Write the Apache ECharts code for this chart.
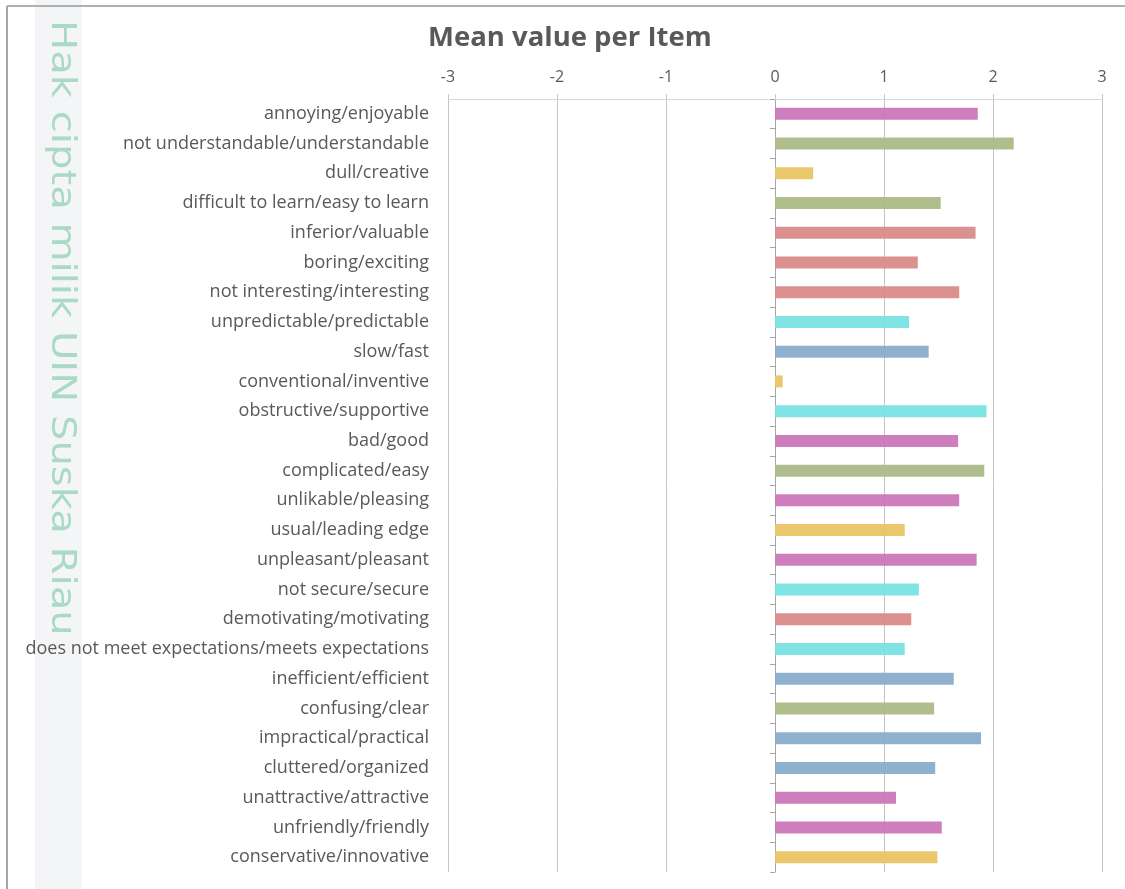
<!DOCTYPE html>
<html>
<head>
<meta charset="utf-8">
<title>Mean value per Item</title>
<script src="https://cdn.jsdelivr.net/npm/echarts@6/dist/echarts.min.js"></script>
<style>
  html, body { margin: 0; padding: 0; background: #ffffff; }
  #chart { width: 1125px; height: 889px; }
</style>
</head>
<body>
<div id="chart"></div>
<script>
  // items, top to bottom
  const items = [
    'annoying/enjoyable',
    'not understandable/understandable',
    'dull/creative',
    'difficult to learn/easy to learn',
    'inferior/valuable',
    'boring/exciting',
    'not interesting/interesting',
    'unpredictable/predictable',
    'slow/fast',
    'conventional/inventive',
    'obstructive/supportive',
    'bad/good',
    'complicated/easy',
    'unlikable/pleasing',
    'usual/leading edge',
    'unpleasant/pleasant',
    'not secure/secure',
    'demotivating/motivating',
    'does not meet expectations/meets expectations',
    'inefficient/efficient',
    'confusing/clear',
    'impractical/practical',
    'cluttered/organized',
    'unattractive/attractive',
    'unfriendly/friendly',
    'conservative/innovative'
  ];
  const meanValues = [
    1.86, 2.19, 0.35, 1.52, 1.84, 1.31, 1.69, 1.23, 1.41, 0.07, 1.94, 1.68, 1.92,
    1.69, 1.19, 1.85, 1.32, 1.25, 1.19, 1.64, 1.46, 1.89, 1.47, 1.11, 1.53, 1.49
  ];
  // scale group of each item (attractiveness, perspicuity, ...)
  const itemGroups = [
    'att', 'per', 'nov', 'per', 'sti', 'sti', 'sti', 'dep', 'eff', 'nov', 'dep', 'att', 'per',
    'att', 'nov', 'att', 'dep', 'sti', 'dep', 'eff', 'per', 'eff', 'eff', 'att', 'att', 'nov'
  ];
  const xTicks = [-3, -2, -1, 0, 1, 2, 3];

  const groupColors = {
    att: '#cb77b8',
    per: '#abbb86',
    nov: '#eac463',
    sti: '#d98b8a',
    dep: '#78e3e1',
    eff: '#8aadcb'
  };

  const chart = echarts.init(document.getElementById('chart'));
  const labelFont = '"Open Sans", "Liberation Sans", sans-serif';

  const option = {
    backgroundColor: '#ffffff',
    animation: false,
    title: {
      text: 'Mean value per Item',
      left: 423,
      top: 19,
      textStyle: {
        fontFamily: labelFont,
        fontSize: 27.5,
        fontWeight: 'bold',
        color: '#595959'
      }
    },
    graphic: [
      { type: 'rect', shape: { x: 35, y: 0, width: 47, height: 889 }, style: { fill: '#f4f5f7' }, z: -10 },
      { type: 'line', shape: { x1: 7, y1: 6, x2: 1125, y2: 6 }, style: { stroke: '#b0b0b0', lineWidth: 2 } },
      { type: 'line', shape: { x1: 7, y1: 6, x2: 7, y2: 889 }, style: { stroke: '#a6a6a6', lineWidth: 2 } },
      {
        // vertical watermark text on the left
        type: 'text',
        x: 78,
        y: 20,
        rotation: -Math.PI / 2,
        scaleX: 1.18,
        z: 1,
        style: {
          text: 'Hak cipta milik UIN Suska Riau',
          fill: '#aad9c4',
          fontFamily: '"DejaVu Sans", sans-serif',
          fontSize: 34,
          fontWeight: 'normal'
        }
      }
    ],
    grid: {
      left: 448,
      right: 23,
      top: 99,
      bottom: 17
    },
    xAxis: {
      type: 'value',
      position: 'top',
      min: -3,
      max: 3,
      interval: 1,
      axisLine: { show: true, lineStyle: { color: '#d9d9d9', width: 1 } },
      axisTick: { show: true, inside: false, length: 5, lineStyle: { color: '#c8c8c8' } },
      axisLabel: {
        margin: 14,
        fontFamily: labelFont,
        fontSize: 16,
        color: '#595959',
        formatter: v => (xTicks.indexOf(v) >= 0 ? String(v) : '')
      },
      splitLine: { show: true, lineStyle: { color: '#c4c4c4', width: 1 } }
    },
    yAxis: [
      {
        type: 'category',
        data: items,
        inverse: true,
        position: 'left',
        axisLine: { show: false, onZero: false },
        axisTick: { show: false },
        axisLabel: {
          margin: 19,
          fontFamily: labelFont,
          fontSize: 18,
          color: '#595959'
        }
      },
      {
        // axis line + ticks sitting on x = 0
        type: 'category',
        data: items,
        inverse: true,
        position: 'left',
        axisLine: { show: true, onZero: true, lineStyle: { color: '#a6a6a6', width: 1 } },
        axisTick: { show: true, length: 5, lineStyle: { color: '#a6a6a6' } },
        axisLabel: { show: false }
      }
    ],
    series: [{
      type: 'bar',
      yAxisIndex: 0,
      barWidth: 12,
      data: meanValues.map((v, i) => ({
        value: v,
        itemStyle: { color: groupColors[itemGroups[i]] }
      })),
      itemStyle: { opacity: 0.95 }
    }]
  };

  chart.setOption(option);
  window.addEventListener('resize', () => chart.resize());
</script>
</body>
</html>
